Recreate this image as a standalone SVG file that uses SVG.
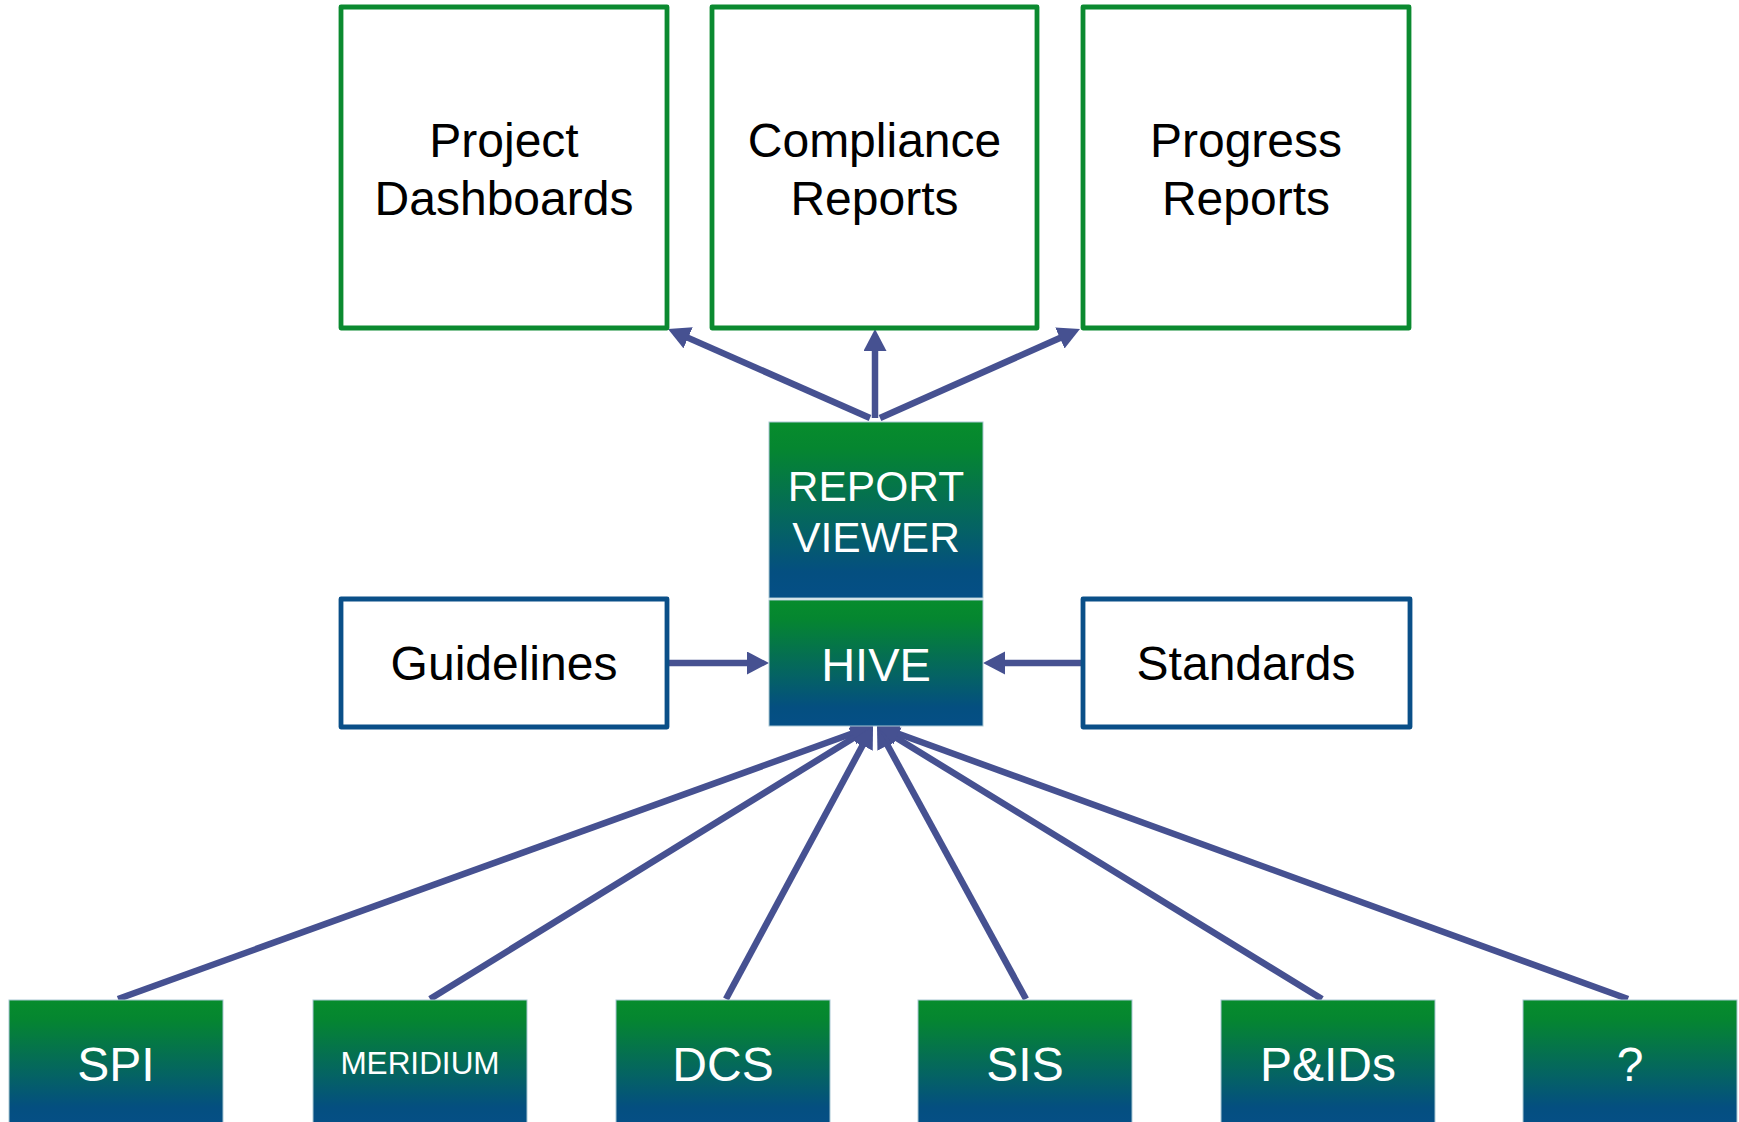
<svg xmlns="http://www.w3.org/2000/svg" width="1739" height="1122" viewBox="0 0 1739 1122">
<defs>
<linearGradient id="gb" x1="0" y1="0" x2="0" y2="1">
<stop offset="0" stop-color="#078c2c"/>
<stop offset="0.15" stop-color="#058630"/>
<stop offset="0.85" stop-color="#044f80"/>
<stop offset="1" stop-color="#054f86"/>
</linearGradient>
<marker id="ah" markerUnits="userSpaceOnUse" markerWidth="24" markerHeight="24" refX="8" refY="11.5" orient="auto">
<path d="M0,0 L22,11.5 L0,23 Z" fill="#465191"/>
</marker>
<style>
.og{fill:#fff;stroke:#0b8a30;stroke-width:4.8;stroke-linejoin:round}
.ob{fill:#fff;stroke:#0a4f88;stroke-width:4.8;stroke-linejoin:round}
.gr{fill:url(#gb);stroke:#a9c7d3;stroke-width:1}
.tk{font-family:"Liberation Sans",Arial,sans-serif;font-size:48px;fill:#000;text-anchor:middle}
.tw{font-family:"Liberation Sans",Arial,sans-serif;font-size:48px;fill:#fff;text-anchor:middle}
.cn{stroke:#465191;stroke-width:6.5;fill:none;marker-end:url(#ah)}
</style>
</defs>
<rect width="1739" height="1122" fill="#fff"/>

<g id="connectors">
<line class="cn" x1="875" y1="418" x2="875" y2="343"/>
<line class="cn" x1="870" y1="418" x2="680.8" y2="334.6"/>
<line class="cn" x1="880" y1="418" x2="1067.2" y2="334.7"/>
<line class="cn" x1="667" y1="663" x2="755" y2="663"/>
<line class="cn" x1="1083" y1="663" x2="997" y2="663"/>
<line class="cn" x1="118" y1="999" x2="859.8" y2="730.8"/>
<line class="cn" x1="430" y1="999" x2="861.1" y2="733.3"/>
<line class="cn" x1="726" y1="999" x2="866.4" y2="738.3"/>
<line class="cn" x1="1026" y1="999" x2="883.7" y2="738.3"/>
<line class="cn" x1="1322" y1="999" x2="888.9" y2="733.3"/>
<line class="cn" x1="1628" y1="999" x2="890.2" y2="730.8"/>
</g>

<g id="project-dashboards">
<rect class="og" x="341" y="7" width="326" height="321"/>
<text class="tk" x="504" y="157">Project</text>
<text class="tk" x="504" y="215">Dashboards</text>
</g>
<g id="compliance-reports">
<rect class="og" x="712" y="7" width="325" height="321"/>
<text class="tk" x="874.5" y="157">Compliance</text>
<text class="tk" x="874.5" y="215">Reports</text>
</g>
<g id="progress-reports">
<rect class="og" x="1083" y="7" width="326" height="321"/>
<text class="tk" x="1246" y="157">Progress</text>
<text class="tk" x="1246" y="215">Reports</text>
</g>

<g id="report-viewer">
<rect class="gr" x="769" y="422" width="214" height="176"/>
<text class="tw" x="876" y="501" style="font-size:42.5px">REPORT</text>
<text class="tw" x="876" y="552" style="font-size:42.5px">VIEWER</text>
</g>
<g id="hive">
<rect class="gr" x="769" y="600" width="214" height="126"/>
<text class="tw" x="876" y="681" style="font-size:47px">HIVE</text>
</g>

<g id="guidelines">
<rect class="ob" x="341" y="599" width="326" height="128"/>
<text class="tk" x="504" y="680">Guidelines</text>
</g>
<g id="standards">
<rect class="ob" x="1083" y="599" width="327" height="128"/>
<text class="tk" x="1246" y="680">Standards</text>
</g>

<g id="spi">
<rect class="gr" x="9" y="1000" width="214" height="126"/>
<text class="tw" x="116" y="1081">SPI</text>
</g>
<g id="meridium">
<rect class="gr" x="313" y="1000" width="214" height="126"/>
<text class="tw" x="420" y="1074" style="font-size:31.5px">MERIDIUM</text>
</g>
<g id="dcs">
<rect class="gr" x="616" y="1000" width="214" height="126"/>
<text class="tw" x="723" y="1081">DCS</text>
</g>
<g id="sis">
<rect class="gr" x="918" y="1000" width="214" height="126"/>
<text class="tw" x="1025" y="1081">SIS</text>
</g>
<g id="pids">
<rect class="gr" x="1221" y="1000" width="214" height="126"/>
<text class="tw" x="1328" y="1081">P&amp;IDs</text>
</g>
<g id="unknown">
<rect class="gr" x="1523" y="1000" width="214" height="126"/>
<text class="tw" x="1630" y="1081">?</text>
</g>
</svg>
